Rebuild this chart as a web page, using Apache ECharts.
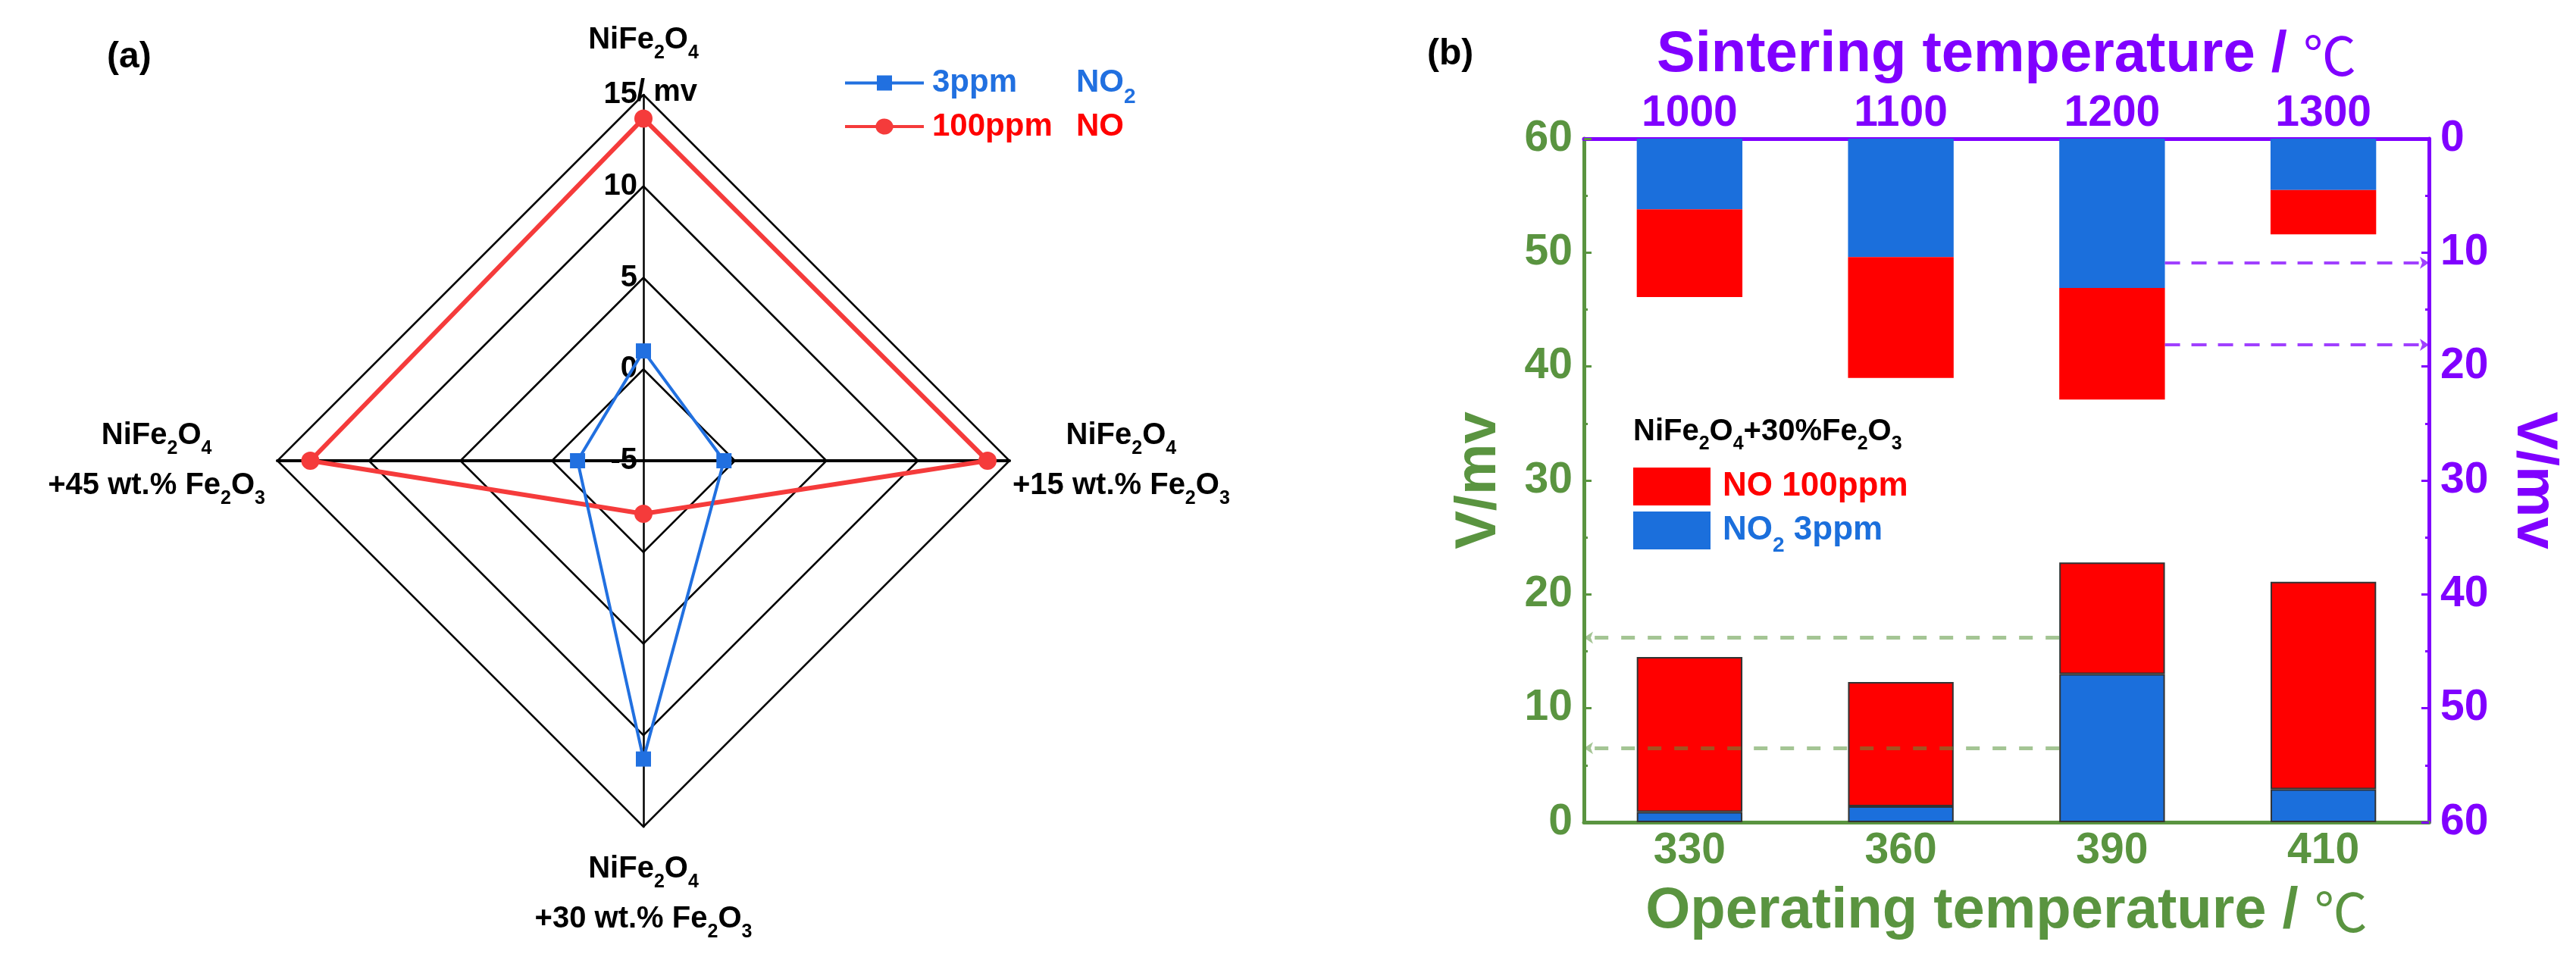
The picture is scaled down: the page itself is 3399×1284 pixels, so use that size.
<!DOCTYPE html>
<html><head><meta charset="utf-8">
<script src="https://cdn.jsdelivr.net/npm/echarts@6/dist/echarts.min.js"></script>
<style>html,body{margin:0;padding:0;background:#fff}#c{width:3399px;height:1284px}</style>
</head><body><div id="c"></div>
<script>
// ---------------- (a) radar data ----------------
const radarAxes = ['NiFe_2O_4', 'NiFe_2O_4\n+15 wt.% Fe_2O_3', 'NiFe_2O_4\n+30 wt.% Fe_2O_3', 'NiFe_2O_4\n+45 wt.% Fe_2O_3'];
const radarTicks = [-5, 0, 5, 10, 15];
const radarUnit = '/ mv';
const radarConc = ['3ppm', '100ppm'];
const radarGas = ['NO_2', 'NO'];
const radarNO2_3ppm = [1.0, -0.6, 11.3, -1.4];
const radarNO_100ppm = [13.7, 13.8, -2.1, 13.2];

// ---------------- (b) bar data ----------------
const operatingTemps = ['330', '360', '390', '410'];
const sinteringTemps = ['1000', '1100', '1200', '1300'];
const opNO2_3ppm = [0.9, 1.4, 13.0, 2.9];
const opNO_100ppm = [13.6, 10.9, 9.8, 18.2];
const sinNO2_3ppm = [6.2, 10.4, 13.1, 4.5];
const sinNO_100ppm = [7.7, 10.6, 9.8, 3.9];
const opGuides = [16.2, 6.5];      // left axis values of green dashed arrows
const sinGuides = [10.9, 18.1];    // right axis values of purple dashed arrows
const voltRange = [0, 60];
const voltStep = 10;
const barSeriesNames = ['NO 100ppm', 'NO_2 3ppm'];
const barSample = 'NiFe_2O_4+30%Fe_2O_3';

// ---------------- styles ----------------
const FONT = "'Liberation Sans', Arial, Helvetica, sans-serif";
const BLUE = '#2170e0', RED = '#f53b3b', BAR_BLUE = '#1b6fdc', BAR_RED = '#ff0000', TXT_RED = '#ff0000';
const GREEN = '#5a9440', PURPLE = '#8000ff';

function chem(s, m, sb) {
  return s.split('\n').map(line => {
    const parts = line.split(/_(\d)/);
    let out = '';
    parts.forEach((p, i) => { if (p) out += (i % 2 ? '{' + sb + '|' + p + '}' : '{' + m + '|' + p + '}'); });
    return out;
  }).join('\n');
}
const plain = s => s.replace(/_/g, '');
function mainSty(size, color, lh, extra) {
  return Object.assign({ fontFamily: FONT, fontWeight: 'bold', fontSize: size, color: color, lineHeight: lh, verticalAlign: 'middle' }, extra || {});
}
function subSty(size, color, drop, extra) {
  return Object.assign({ fontFamily: FONT, fontWeight: 'bold', fontSize: size, color: color, lineHeight: 10, verticalAlign: 'middle', padding: [drop, 0, 0, 0] }, extra || {});
}

// ECharts radar runs counter-clockwise: top, left, bottom, right
const order = [0, 3, 2, 1];
const nameGaps = [39, 4, 23, 16];

const legendANames = radarConc.map((c, i) => c + ' ' + plain(radarGas[i]));
const barNames = barSeriesNames.map(plain);

const idx390 = operatingTemps.indexOf('390');
const idx1200 = sinteringTemps.indexOf('1200');
const barFrac = 0.5;

const option = {
  animation: false,
  backgroundColor: '#fff',
  title: [
    { text: '(a)', left: 141, top: 52, padding: 0, textStyle: { fontFamily: FONT, fontWeight: 'bold', fontSize: 48, lineHeight: 48, color: '#000' } },
    { text: '(b)', left: 1883, top: 48, padding: 0, textStyle: { fontFamily: FONT, fontWeight: 'bold', fontSize: 48, lineHeight: 48, color: '#000' } },
    { text: radarUnit, left: 840, top: 102, padding: 0, textStyle: { fontFamily: FONT, fontWeight: 'bold', fontSize: 40, lineHeight: 40, color: '#000' } },
    { text: chem(barSample, 'm', 's'), left: 2155, top: 538, padding: 0,
      textStyle: { rich: { m: mainSty(40, '#000', 64), s: subSty(25, '#000', 32) } } }
  ],
  legend: [
    {
      orient: 'vertical', left: 1115, top: 77, padding: 0, itemWidth: 104, itemHeight: 24, itemGap: 4,
      data: [
        { name: legendANames[0], icon: 'path://M0,8 L42,8 L42,0 L62,0 L62,8 L104,8 L104,12 L62,12 L62,20 L42,20 L42,12 L0,12 Z' },
        { name: legendANames[1], icon: 'path://M0,10 L40.5,10 A12,12 0 0,1 63.5,10 L104,10 L104,14 L63.5,14 A12,12 0 0,1 40.5,14 L0,14 Z' }
      ],
      itemStyle: { borderWidth: 0 },
      formatter: name => {
        const i = legendANames.indexOf(name), c = i === 0 ? 'b' : 'r';
        return '{' + c + 'p|' + radarConc[i] + '}' + chem(radarGas[i], c + 'm', c + 's');
      },
      textStyle: { rich: {
        bp: mainSty(42, BLUE, 64, { width: 190, padding: [0, 0, 0, 6] }), bm: mainSty(42, BLUE, 64), bs: subSty(28, BLUE, 37),
        rp: mainSty(42, TXT_RED, 64, { width: 190, padding: [0, 0, 0, 6] }), rm: mainSty(42, TXT_RED, 64), rs: subSty(28, TXT_RED, 37)
      } }
    },
    {
      orient: 'vertical', left: 2155, top: 617, padding: 0, itemWidth: 102, itemHeight: 50, itemGap: -1,
      icon: 'rect',
      data: [barNames[0], barNames[1]],
      itemStyle: { borderWidth: 0 },
      formatter: name => {
        const i = barNames.indexOf(name), c = i === 0 ? 'r' : 'b';
        const t = chem(barSeriesNames[i], c + 'm', c + 's');
        return t.replace('{' + c + 'm|', '{' + c + 'f|');
      },
      textStyle: { rich: {
        rf: mainSty(44, TXT_RED, 64, { padding: [0, 0, 0, 11] }), rm: mainSty(44, TXT_RED, 64), rs: subSty(28, TXT_RED, 40),
        bf: mainSty(44, BAR_BLUE, 64, { padding: [0, 0, 0, 11] }), bm: mainSty(44, BAR_BLUE, 64), bs: subSty(28, BAR_BLUE, 40)
      } }
    }
  ],
  radar: {
    center: [849, 608], radius: 483, shape: 'polygon', splitNumber: radarTicks.length - 1,
    startAngle: 90,
    indicator: order.map(k => ({
      name: radarAxes[k], min: radarTicks[0], max: radarTicks[radarTicks.length - 1],
      nameGap: nameGaps[k],
      axisLabel: { show: k === 0 },
      axisLine: { lineStyle: { color: '#000', width: (k === 1 || k === 3) ? 4 : 2.5 } }
    })),
    axisName: {
      formatter: n => chem(n, 'm', 's'),
      rich: { m: mainSty(40, '#000', 66, { align: 'center' }), s: subSty(25, '#000', 35, { align: 'center' }) }
    },
    axisLine: { show: true, lineStyle: { color: '#000', width: 2.5 } },
    splitLine: { lineStyle: { color: '#000', width: 2.5 } },
    splitArea: { show: false },
    axisTick: { show: false },
    axisLabel: { show: true, fontFamily: FONT, fontWeight: 'bold', fontSize: 40, color: '#000', margin: 8 }
  },
  grid: { left: 2090, right: 194, top: 183, bottom: 199 },
  xAxis: [
    { type: 'category', gridIndex: 0, position: 'bottom', data: operatingTemps,
      name: '{t|Operating temperature / }{c|℃}', nameLocation: 'middle', nameGap: 80,
      nameTextStyle: { rich: { t: { fontFamily: FONT, fontWeight: 'bold', fontSize: 76, color: GREEN }, c: { fontFamily: "'Noto Sans CJK SC'", fontWeight: 'normal', fontSize: 70, color: GREEN } } },
      axisLine: { onZero: false, lineStyle: { color: GREEN, width: 5 } }, axisTick: { show: false },
      axisLabel: { fontFamily: FONT, fontWeight: 'bold', fontSize: 57, color: GREEN, margin: 10 } },
    { type: 'category', gridIndex: 0, position: 'top', data: sinteringTemps,
      name: '{t|Sintering temperature / }{c|℃}', nameLocation: 'middle', nameGap: 72,
      nameTextStyle: { rich: { t: { fontFamily: FONT, fontWeight: 'bold', fontSize: 76, color: PURPLE }, c: { fontFamily: "'Noto Sans CJK SC'", fontWeight: 'normal', fontSize: 70, color: PURPLE } } },
      axisLine: { onZero: false, lineStyle: { color: PURPLE, width: 5 } }, axisTick: { show: false },
      axisLabel: { fontFamily: FONT, fontWeight: 'bold', fontSize: 57, color: PURPLE, margin: 4 } },
    { type: 'value', gridIndex: 0, min: -0.5, max: 3.5, show: false, axisLine: { onZero: false } }
  ],
  yAxis: [
    { type: 'value', gridIndex: 0, position: 'left', min: voltRange[0], max: voltRange[1], interval: voltStep,
      name: 'V/mv', nameLocation: 'middle', nameGap: 100,
      nameTextStyle: { fontFamily: FONT, fontWeight: 'bold', fontSize: 76, color: GREEN },
      axisLine: { show: true, onZero: false, lineStyle: { color: GREEN, width: 5 } },
      axisTick: { show: true, inside: true, length: 10, lineStyle: { color: GREEN, width: 3 } },
      minorTick: { show: true, splitNumber: 2, length: 5, lineStyle: { color: GREEN, width: 3 } },
      splitLine: { show: false },
      axisLabel: { fontFamily: FONT, fontWeight: 'bold', fontSize: 57, color: GREEN, margin: 15 } },
    { type: 'value', gridIndex: 0, position: 'right', inverse: true, min: voltRange[0], max: voltRange[1], interval: voltStep,
      name: 'V/mv', nameLocation: 'middle', nameGap: 100, nameRotate: -90,
      nameTextStyle: { fontFamily: FONT, fontWeight: 'bold', fontSize: 76, color: PURPLE },
      axisLine: { show: true, onZero: false, lineStyle: { color: PURPLE, width: 5 } },
      axisTick: { show: true, inside: true, length: 10, lineStyle: { color: PURPLE, width: 3 } },
      minorTick: { show: true, splitNumber: 2, length: 5, lineStyle: { color: PURPLE, width: 3 } },
      splitLine: { show: false },
      axisLabel: { fontFamily: FONT, fontWeight: 'bold', fontSize: 57, color: PURPLE, margin: 15 } }
  ],
  series: [
    { type: 'radar', z: 3,
      data: [
        { name: legendANames[1], value: order.map(k => radarNO_100ppm[k]), symbol: 'circle', symbolSize: 24,
          itemStyle: { color: RED }, lineStyle: { color: RED, width: 6 } },
        { name: legendANames[0], value: order.map(k => radarNO2_3ppm[k]), symbol: 'rect', symbolSize: 20,
          itemStyle: { color: BLUE }, lineStyle: { color: BLUE, width: 4 } }
      ] },
    { type: 'bar', name: barNames[1], xAxisIndex: 0, yAxisIndex: 0, stack: 'op', barWidth: '50%', data: opNO2_3ppm,
      itemStyle: { color: BAR_BLUE, borderColor: '#333', borderWidth: 2 } },
    { type: 'bar', name: barNames[0], xAxisIndex: 0, yAxisIndex: 0, stack: 'op', barWidth: '50%', data: opNO_100ppm,
      itemStyle: { color: BAR_RED, borderColor: '#333', borderWidth: 2 } },
    { type: 'bar', name: barNames[1], xAxisIndex: 1, yAxisIndex: 1, stack: 'sin', barWidth: '50%', data: sinNO2_3ppm,
      itemStyle: { color: BAR_BLUE } },
    { type: 'bar', name: barNames[0], xAxisIndex: 1, yAxisIndex: 1, stack: 'sin', barWidth: '50%', data: sinNO_100ppm,
      itemStyle: { color: BAR_RED } },
    { type: 'line', name: 'opGuide', xAxisIndex: 2, yAxisIndex: 0, data: [], z: 5,
      markLine: { silent: true, symbol: ['none', 'arrow'], symbolSize: 12, label: { show: false },
        lineStyle: { type: [18, 17], color: 'rgba(90,150,60,0.55)', width: 5 },
        data: opGuides.map(v => [{ coord: [idx390 - barFrac / 2, v] }, { coord: [-0.5, v] }]) } },
    { type: 'line', name: 'sinGuide', xAxisIndex: 2, yAxisIndex: 1, data: [], z: 5,
      markLine: { silent: true, symbol: ['none', 'arrow'], symbolSize: 12, label: { show: false },
        lineStyle: { type: [20, 15], color: 'rgba(128,0,255,0.75)', width: 4 },
        data: sinGuides.map(v => [{ coord: [idx1200 + barFrac / 2, v] }, { coord: [3.5, v] }]) } }
  ]
};
const chart = echarts.init(document.getElementById('c'));
chart.setOption(option);
</script>
</body></html>
